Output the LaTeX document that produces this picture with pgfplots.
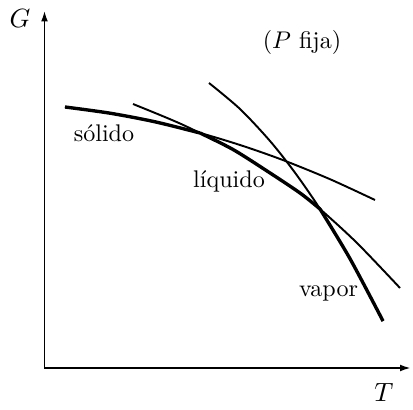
\documentclass[border=0pt]{standalone}
\usepackage{pgfplots}
\pgfplotsset{compat=1.18}
\usetikzlibrary{arrows.meta}

% curves in picture units (1 unit = 1 px of the reference, y measured upward)
\pgfplotstableread{
x y
65 296
110 289.8
155 281.2
200 270
240 258
282 243.3
330 223.8
375 203
}\solido
\pgfplotstableread{
x y
133 299
160 288
180 279.5
200 270
233 253.5
267 232
300 210
320 194
357 160
400 115
}\liquido
\pgfplotstableread{
x y
209 320
240 294
270 262
295 230.3
320 194
350 144.3
383 82
}\vapor

\begin{document}
\begin{tikzpicture}
\begin{axis}[
    x=0.415pt, y=0.415pt,
    axis lines=left,
    axis line style={line width=0.8pt, -{Latex[length=4.5pt,width=2.8pt]}},
    xmin=44.5, xmax=411, ymin=35, ymax=392.5,
    ticks=none,
    clip=false,
  ]
  \path (axis cs:0,0) rectangle (axis cs:413,403);
  % full curves, thin
  \addplot[line width=0.8pt, smooth] table[x=x,y=y] {\solido};
  \addplot[line width=0.8pt, smooth] table[x=x,y=y] {\liquido};
  \addplot[line width=0.8pt, smooth] table[x=x,y=y] {\vapor};
  % stable phase, thick
  \addplot[line width=1.4pt, smooth, restrict x to domain=60:200] table[x=x,y=y] {\solido};
  \addplot[line width=1.4pt, smooth, restrict x to domain=200:320] table[x=x,y=y] {\liquido};
  \addplot[line width=1.4pt, smooth, restrict x to domain=320:390] table[x=x,y=y] {\vapor};

  \node[anchor=base, font=\fontsize{11}{13}\selectfont] at (axis cs:20,375.7) {$G$};
  \node[anchor=base, font=\fontsize{11}{13}\selectfont] at (axis cs:384,2) {$T$};
  \node[anchor=base] at (axis cs:302,354.7) {($P$ fija)};
  \node[anchor=base] at (axis cs:104,261) {sólido};
  \node[anchor=base] at (axis cs:229,215) {líquido};
  \node[anchor=base] at (axis cs:328.5,106.5) {vapor};
\end{axis}
\end{tikzpicture}
\end{document}
